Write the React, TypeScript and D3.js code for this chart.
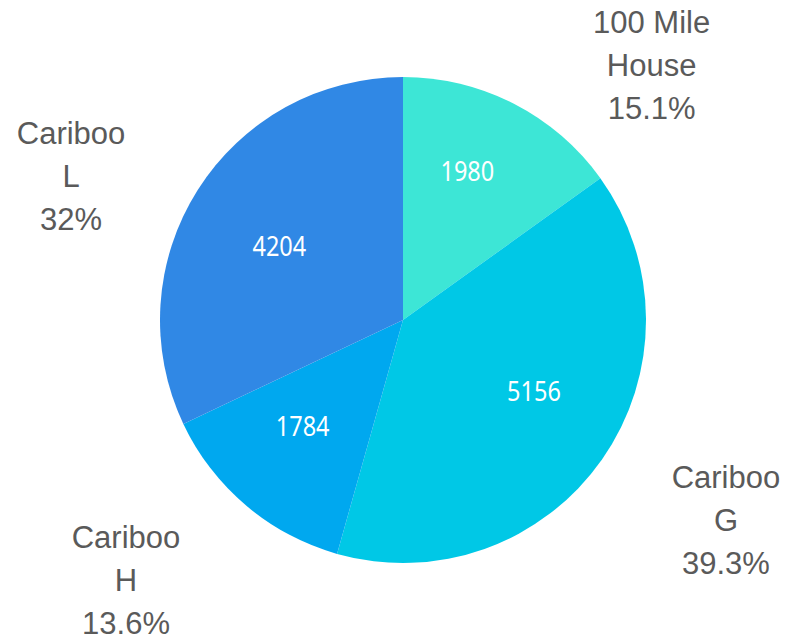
import React from "react";
import * as d3 from "d3";

const categories = ["100 Mile House", "Cariboo G", "Cariboo H", "Cariboo L"];
const values = [1980, 5156, 1784, 4204];
const colors = ["#3de6d6", "#00c8e6", "#00a8ef", "#3088e5"];
const labelLines = [["100 Mile", "House"], ["Cariboo", "G"], ["Cariboo", "H"], ["Cariboo", "L"]];
// outside label placement: angle (deg, clockwise from north) and radius
const labelPlacement = [
  { angle: 44.3, radius: 356 },
  { angle: 121.8, radius: 380 },
  { angle: 226.8, radius: 380 },
  { angle: 293.5, radius: 362 },
];
// inside value label placement
const valuePlacement = [
  { angle: 23.4, radius: 162 },
  { angle: 118.5, radius: 149 },
  { angle: 223.4, radius: 146 },
  { angle: 300.8, radius: 144 },
];

const W = 785;
const H = 640;
const cx = 403;
const cy = 320;
const R = 243;

const polar = (deg: number, r: number): [number, number] => {
  const a = (deg * Math.PI) / 180;
  return [Math.sin(a) * r, -Math.cos(a) * r];
};

export default function App() {
  const total = d3.sum(values);
  const pie = d3.pie<number>().sort(null).value((d) => d)(values);
  const arc = d3.arc<d3.PieArcDatum<number>>().innerRadius(0).outerRadius(R);
  const fmt = (v: number) => {
    const p = Math.round((v / total) * 1000) / 10;
    return `${p}%`;
  };
  const lineH = 43;
  return (
    <svg width={W} height={H} style={{ position: "absolute", left: 0, top: 0 }}>
      <g transform={`translate(${cx},${cy})`}>
        {pie.map((p, i) => (
          <path key={i} d={arc(p) || ""} fill={colors[i]} />
        ))}
        {pie.map((p, i) => {
          const [x, y] = polar(valuePlacement[i].angle, valuePlacement[i].radius);
          return (
            <g key={"v" + i} transform={`translate(${x},${y}) scale(0.87,1)`}>
              <text
                x={0}
                y={0}
                dy="0.36em"
                textAnchor="middle"
                fill="#ffffff"
                fontFamily="Noto Sans"
                fontSize={27}
              >
                {values[i]}
              </text>
            </g>
          );
        })}
        {pie.map((p, i) => {
          const [x, y] = polar(labelPlacement[i].angle, labelPlacement[i].radius);
          const lines = [...labelLines[i], fmt(values[i])];
          return (
            <text
              key={"l" + i}
              textAnchor="middle"
              fill="#5a5a5a"
              fontFamily="'Liberation Sans', Arial, sans-serif"
              fontSize={31}
            >
              {lines.map((t, j) => (
                <tspan key={j} x={x} y={y + (j - 1) * lineH + 11}>
                  {t}
                </tspan>
              ))}
            </text>
          );
        })}
      </g>
    </svg>
  );
}
